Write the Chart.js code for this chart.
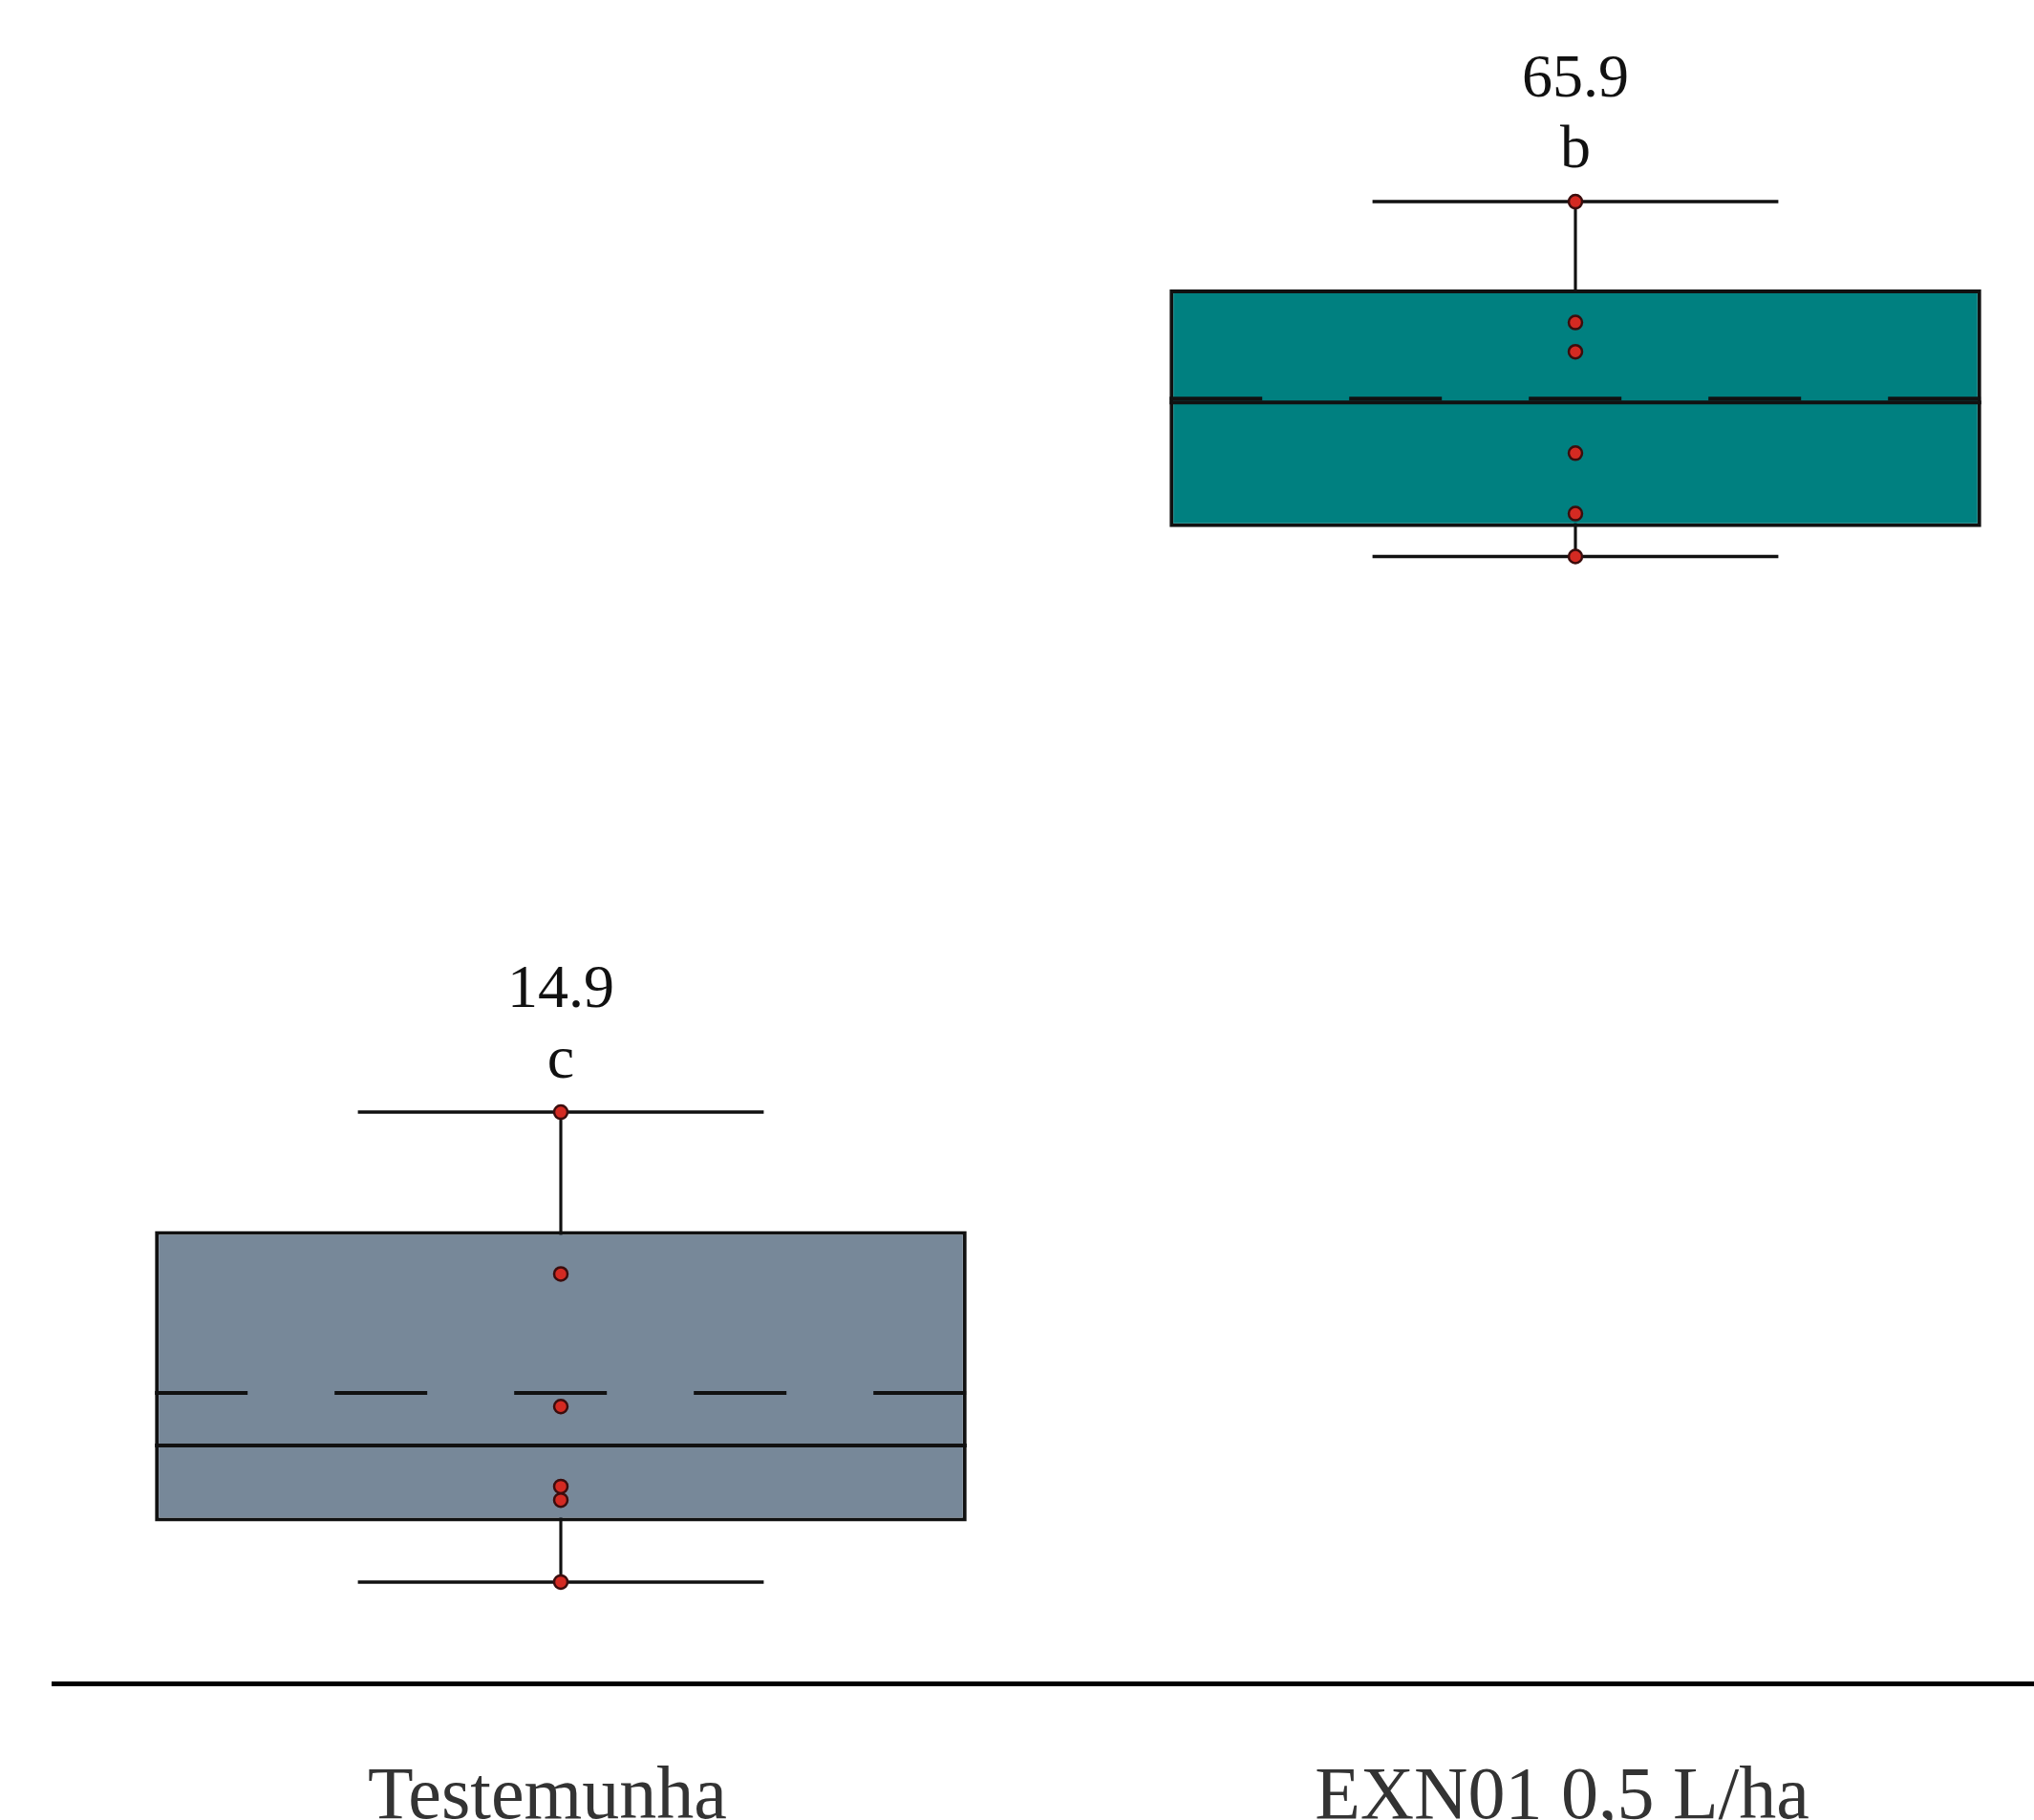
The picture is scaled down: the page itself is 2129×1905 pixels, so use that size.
<!DOCTYPE html>
<html>
<head>
<meta charset="utf-8">
<script src="https://cdn.jsdelivr.net/npm/chart.js@4.4.0/dist/chart.umd.min.js"></script>
<style>
  html, body { margin: 0; padding: 0; background: #fff; overflow: hidden; }
  #wrap { width: 2180px; height: 1905px; }
</style>
</head>
<body>
<div id="wrap"><canvas id="chart" width="2180" height="1905"></canvas></div>
<script>
// values
var categories = ['Testemunha', 'EXN01 0,5 L/ha'];
var mins    = [5.2, 57.8];
var q1s     = [8.3, 59.3];
var medians = [12.2, 65.7];
var q3s     = [23.2, 71.5];
var maxs    = [29.3, 76.0];
var means   = [14.9, 65.9];
var meanLabels = ['14.9', '65.9'];
var letters = ['c', 'b'];
var obsTestemunha = [29.3, 21.0, 14.2, 10.1, 9.4, 5.2];
var obsExn01 = [76.0, 69.8, 68.3, 63.1, 60.0, 57.8];
var boxColors = ['#778899', '#008080'];

function perCat(arr) {
    return arr.map(function (v, i) { return { x: categories[i], y: v }; });
}

var obsPoints = [];
[obsTestemunha, obsExn01].forEach(function (list, i) {
    list.forEach(function (v) { obsPoints.push({ x: categories[i], y: v }); });
});

// half of the category width times a fraction, in pixels
function halfWidth(frac) {
    return function (ctx) {
        var xs = ctx.chart.scales.x;
        return xs.width / categories.length * frac;
    };
}

var meanDash = {
    id: 'meanDash',
    beforeDatasetDraw: function (chart, args) {
        if (chart.data.datasets[args.index].meanLine) {
            chart.ctx.save();
            chart.ctx.setLineDash([97, 91]);
        }
    },
    afterDatasetDraw: function (chart, args) {
        if (chart.data.datasets[args.index].meanLine) chart.ctx.restore();
    }
};

var topLabels = {
    id: 'topLabels',
    afterDatasetsDraw: function (chart) {
        var ctx = chart.ctx, xs = chart.scales.x, ys = chart.scales.y;
        ctx.save();
        ctx.font = '64px "Liberation Serif"';
        ctx.fillStyle = '#111';
        ctx.textAlign = 'center';
        ctx.textBaseline = 'alphabetic';
        categories.forEach(function (c, i) {
            var x = xs.getPixelForValue(i);
            var y = ys.getPixelForValue(maxs[i]) - 36.5;
            ctx.fillText(letters[i], x, y);
            ctx.fillText(meanLabels[i], x, y - 73.5);
        });
        ctx.restore();
    }
};

new Chart(document.getElementById('chart'), {
    type: 'bar',
    data: {
        labels: categories,
        datasets: [{
            type: 'scatter',
            data: obsPoints,
            pointStyle: 'circle',
            radius: 7,
            borderWidth: 2.5,
            backgroundColor: '#d42a22',
            borderColor: '#3b0d0d',
            order: 0
        }, {
            type: 'scatter',
            meanLine: true,
            data: perCat(means),
            pointStyle: 'line',
            radius: halfWidth(0.4),
            borderWidth: 4,
            borderColor: '#111',
            order: 1
        }, {
            type: 'scatter',
            data: perCat(medians),
            pointStyle: 'line',
            radius: halfWidth(0.4),
            borderWidth: 4,
            borderColor: '#111',
            order: 2
        }, {
            data: q1s.map(function (v, i) { return [v, q3s[i]]; }),
            backgroundColor: boxColors,
            borderColor: '#111',
            borderWidth: 4,
            borderSkipped: false,
            barPercentage: 0.8,
            categoryPercentage: 1,
            grouped: false,
            order: 3
        }, {
            type: 'scatter',
            data: perCat(mins).concat(perCat(maxs)),
            pointStyle: 'line',
            radius: halfWidth(0.2),
            borderWidth: 3.5,
            borderColor: '#111',
            order: 4
        }, {
            data: mins.map(function (v, i) { return [v, maxs[i]]; }),
            backgroundColor: '#111',
            borderWidth: 0,
            barThickness: 2.5,
            grouped: false,
            order: 5
        }]
    },
    options: {
        responsive: false,
        animation: false,
        events: [],
        layout: { autoPadding: false, padding: { left: 56, right: 0, top: 7, bottom: 0 } },
        plugins: { legend: { display: false }, tooltip: { enabled: false } },
        scales: {
            x: {
                type: 'category',
                offset: true,
                grid: { display: false, drawTicks: false },
                border: { display: true, color: '#000', width: 5 },
                ticks: {
                    autoSkip: false,
                    maxRotation: 0,
                    padding: 74,
                    labelOffset: -14,
                    color: '#333',
                    font: { family: 'Liberation Serif', size: 78 }
                },
                afterFit: function (s) { s.height = 143; }
            },
            y: {
                display: false,
                min: 0,
                max: 86
            }
        }
    },
    plugins: [meanDash, topLabels]
});
</script>
</body>
</html>
